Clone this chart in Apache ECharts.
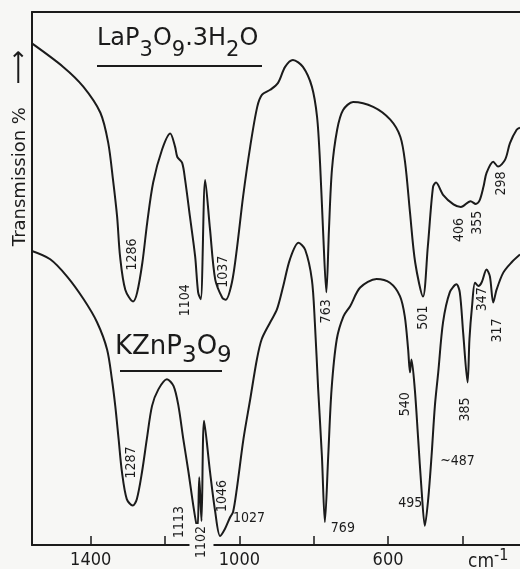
<!DOCTYPE html>
<html>
<head>
<meta charset="utf-8">
<script src="https://cdn.jsdelivr.net/npm/echarts@6/dist/echarts.min.js"></script>
<style>
  html, body { margin: 0; padding: 0; background: #f7f7f5; }
  #chart { width: 520px; height: 569px; }
</style>
</head>
<body>
<div id="chart"></div>
<script>
// IR spectra, wavenumber (cm-1) vs transmission (arbitrary %)
const laPoints = [
  [1560, 94.2], [1474, 89.7], [1420, 86.0], [1374, 81.1], [1353, 75.5], [1340, 68.5],
  [1329, 61.6], [1321, 54.1], [1307, 47.9], [1286, 45.7], [1275, 47.4], [1261, 53.0],
  [1248, 60.5], [1232, 68.0], [1208, 74.2], [1186, 77.2], [1173, 74.7], [1167, 72.8],
  [1154, 71.7], [1146, 68.5], [1133, 61.6], [1119, 54.1], [1111, 47.4], [1104, 46.1],
  [1092, 68.5], [1079, 59.2], [1065, 49.8], [1046, 46.4], [1037, 46.0], [1020, 49.3],
  [1006, 56.0], [990, 65.4], [971, 74.7], [952, 82.2], [939, 84.5], [917, 85.4],
  [896, 86.7], [877, 89.7], [856, 91.0], [829, 89.7], [805, 86.0], [791, 80.3],
  [783, 71.7], [775, 59.2], [766, 47.4], [759, 59.2], [751, 70.4], [737, 77.9],
  [721, 81.6], [694, 83.1], [640, 82.2], [594, 79.8], [567, 76.6], [554, 71.7],
  [541, 62.4], [527, 53.0], [506, 46.6], [493, 56.0], [479, 67.2], [471, 68.0],
  [452, 65.7], [424, 63.9], [404, 63.4], [378, 64.5], [364, 64.0], [354, 64.6],
  [343, 67.3], [335, 69.8], [317, 71.9], [304, 71.0], [285, 72.3], [272, 75.4],
  [254, 77.9], [245, 78.3]
];

const kznPoints = [
  [1560, 55.2], [1509, 53.6], [1464, 50.4], [1419, 46.1], [1383, 41.8], [1356, 36.7],
  [1343, 31.1], [1334, 26.1], [1325, 19.9], [1316, 13.7], [1303, 8.6], [1287, 7.4],
  [1276, 8.6], [1262, 13.7], [1249, 19.9], [1235, 26.1], [1218, 29.2], [1195, 31.1],
  [1177, 29.8], [1164, 26.1], [1151, 19.9], [1137, 13.7], [1124, 7.4], [1113, 3.0],
  [1108, 12.7], [1102, 4.5], [1095, 23.3], [1079, 13.7], [1065, 6.2], [1052, 1.7],
  [1039, 3.0], [1025, 5.2], [1017, 6.2], [1007, 10.5], [989, 19.9], [971, 27.3],
  [953, 34.8], [940, 38.6], [917, 41.8], [899, 44.2], [882, 48.6], [864, 53.6],
  [841, 56.7], [823, 55.4], [805, 49.8], [797, 41.8], [788, 29.2], [778, 16.7],
  [770, 4.3], [761, 16.7], [752, 29.2], [738, 38.6], [720, 42.9], [702, 44.8],
  [675, 48.3], [631, 49.9], [595, 49.2], [568, 46.7], [555, 42.9], [546, 36.7],
  [541, 32.4], [537, 34.8], [528, 29.2], [519, 19.9], [510, 10.5], [501, 3.6],
  [492, 8.6], [483, 16.7], [474, 26.1], [465, 32.4], [452, 41.8], [434, 47.4],
  [416, 48.9], [407, 47.4], [398, 39.9], [386, 30.5], [381, 38.6], [374, 44.8],
  [366, 49.2], [357, 48.6], [348, 49.3], [335, 51.7], [326, 50.4], [317, 45.5],
  [308, 47.9], [290, 51.1], [268, 53.0], [245, 54.5]
];

const laBands = ['1286', '1104', '1037', '763', '501', '406', '355', '298'];
const kznBands = ['1287', '1113', '1102', '1046', '1027', '769', '495', '~487', '540', '385', '347', '317'];

const tickValues = [1400, 1200, 1000, 800, 600, 400];
const tickLabels = [1400, 1000, 600];

// label placement in screen px from the curve point: [dx, dy, rotate]
const labelLayout = {
  '1286': [-1, -47, 90], '1104': [-15, 1, 90], '1037': [-2, -28, 90], '763': [0, 19, 90],
  '501': [0, 21, 90], '406': [-2, 23, 90], '355': [-2, 22, 90], '298': [3, 17, 90],
  '1287': [-1, -43, 90], '1113': [-18, -7, 90], '1102': [0, 21, 90], '1046': [2, -40, 90],
  '1027': [19, 1, 0], '769': [18, 6, 0], '495': [-18, 4, 0], '~487': [26, 5, 0],
  '540': [-5, 32, 90], '385': [-2, 27, 90], '347': [1, 17, 90], '317': [4, 28, 90]
};

const INK = '#1b1b1b';
const PAPER = '#f7f7f5';
const FONT = "'DejaVu Sans', sans-serif";
const NARROW = "'DejaVu Sans Condensed', 'DejaVu Sans', sans-serif";

function nearestPoint(points, band) {
  const v = parseFloat(band.replace('~', ''));
  let best = points[0];
  points.forEach(function (p) {
    if (Math.abs(p[0] - v) < Math.abs(best[0] - v)) best = p;
  });
  return best;
}

function bandMarks(points, bands) {
  return bands.map(function (b) {
    const p = nearestPoint(points, b);
    const lay = labelLayout[b];
    // offset is applied in the rotated text frame
    const off = lay[2] === 90 ? [-lay[1], lay[0]] : [lay[0], lay[1]];
    const label = { offset: off, rotate: lay[2] };
    if (b === '1102') {
      // the printed axis line is broken under this label
      label.backgroundColor = PAPER;
      label.padding = [5, 2, 5, 2];
    }
    return { name: b, coord: [p[0], p[1]], label: label };
  });
}

function spectrum(points, bands) {
  return {
    type: 'line',
    data: points,
    showSymbol: false,
    smooth: 0.3,
    lineStyle: { color: INK, width: 2 },
    markPoint: {
      symbol: 'circle',
      symbolSize: 1,
      itemStyle: { color: 'transparent' },
      label: {
        show: true,
        position: 'inside',
        formatter: '{b}',
        color: INK,
        fontFamily: NARROW,
        fontSize: 14
      },
      data: bandMarks(points, bands)
    }
  };
}

const chart = echarts.init(document.getElementById('chart'), null, { width: 520, height: 569 });

function formulaRich(size, subSize) {
  return {
    n: { fontFamily: FONT, fontWeight: 'normal', color: INK, fontSize: size, lineHeight: 34, verticalAlign: 'top' },
    s: { fontFamily: FONT, fontWeight: 'normal', color: INK, fontSize: subSize, lineHeight: 34, verticalAlign: 'bottom' }
  };
}

chart.setOption({
  backgroundColor: PAPER,
  animation: false,
  title: [
    {
      text: '{n|LaP}{s|3}{n|O}{s|9}{n|.3H}{s|2}{n|O}',
      left: 97, top: 27, padding: 0,
      textStyle: { fontWeight: 'normal', rich: formulaRich(24, 21) }
    },
    {
      text: '{n|KZnP}{s|3}{n|O}{s|9}',
      left: 115, top: 334, padding: 0,
      textStyle: { fontWeight: 'normal', rich: formulaRich(26, 23) }
    }
  ],
  grid: { left: 32, right: 0, top: 12, bottom: 23 },
  xAxis: [
    {
      type: 'value',
      min: 245,
      max: 1558,
      inverse: true,
      axisLine: { show: true, lineStyle: { color: INK, width: 2 } },
      axisTick: {
        show: true, inside: true, length: 9, customValues: tickValues,
        lineStyle: { color: INK, width: 1.5 }
      },
      axisLabel: {
        show: true, customValues: tickLabels, margin: 6,
        formatter: function (v) { return String(v); },
        color: INK, fontFamily: NARROW, fontSize: 18
      },
      splitLine: { show: false }
    },
    {
      type: 'value',
      position: 'top',
      min: 245,
      max: 1558,
      inverse: true,
      axisLine: { show: true, lineStyle: { color: INK, width: 2 } },
      axisTick: { show: false },
      axisLabel: { show: false },
      splitLine: { show: false }
    }
  ],
  yAxis: {
    type: 'value',
    min: 0,
    max: 100,
    axisLine: { show: true, lineStyle: { color: INK, width: 2 } },
    axisTick: { show: false },
    axisLabel: { show: false },
    splitLine: { show: false }
  },
  graphic: [
    {
      type: 'text', x: 20, y: 148, rotation: Math.PI / 2,
      style: {
        text: '{t|Transmission %    }{a|\u27f6}', fill: INK,
        align: 'center', verticalAlign: 'middle',
        rich: {
          t: { fontFamily: FONT, fontSize: 18, lineHeight: 24 },
          a: { fontFamily: FONT, fontSize: 24, lineHeight: 24 }
        }
      }
    },
    {
      type: 'text', x: 468, y: 548,
      style: {
        text: '{n|cm}{p|-1}', fill: INK,
        rich: {
          n: { fontFamily: NARROW, fontSize: 19, lineHeight: 24, verticalAlign: 'bottom' },
          p: { fontFamily: NARROW, fontSize: 16, lineHeight: 24, verticalAlign: 'top' }
        }
      }
    },
    { type: 'line', shape: { x1: 97, y1: 66, x2: 262, y2: 66 }, style: { stroke: INK, lineWidth: 2 } },
    { type: 'line', shape: { x1: 120, y1: 371, x2: 222, y2: 371 }, style: { stroke: INK, lineWidth: 2 } }
  ],
  series: [spectrum(laPoints, laBands), spectrum(kznPoints, kznBands)]
});
</script>
</body>
</html>
